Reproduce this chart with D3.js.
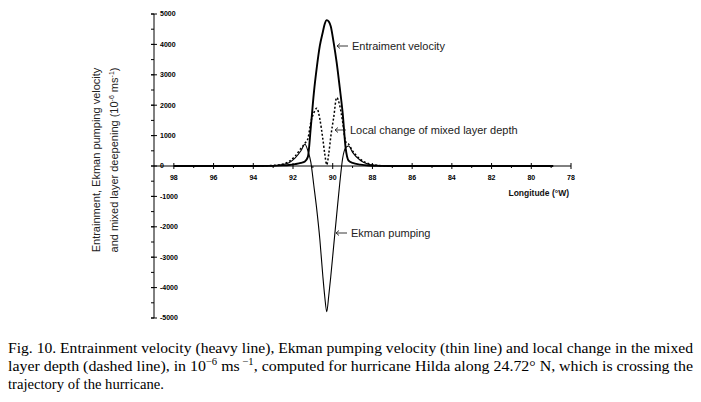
<!DOCTYPE html>
<html>
<head>
<meta charset="utf-8">
<script src="https://cdn.jsdelivr.net/npm/d3@7"></script>
<style>
  body { margin: 0; background: #fff; }
  svg { display: block; }
</style>
</head>
<body>
<div id="chart"></div>
<script>
// longitude (°W)
const lon = [98, 96, 94, 93, 92.5, 92.2, 91.9, 91.6, 91.4, 91.25, 91.1, 90.95, 90.8, 90.65, 90.5, 90.4, 90.3,
  90.2, 90.1, 89.95, 89.8, 89.65, 89.5, 89.35, 89.2, 89.0, 88.6, 88.2, 87.8, 87, 85, 83, 81, 78.9];

// entrainment velocity (heavy line), 10^-6 m/s
const entrainment = [0, 0, 0, 5, 20, 35, 60, 100, 150, 300, 1300, 2400, 3250, 3950, 4400, 4680, 4800,
  4750, 4600, 4050, 3400, 2600, 1750, 600, 180, 100, 45, 15, 5, 0, 0, 0, 0, 0];

// Ekman pumping velocity (thin line)
const ekman = [0, 0, 0, 10, 50, 110, 260, 500, 715, 500, 120, -650, -1450, -2400, -3600, -4300, -4790,
  -4270, -3650, -2620, -1600, -600, 250, 600, 660, 450, 180, 60, 20, 0, 0, 0, 0, 0];

// local change of mixed layer depth (dashed line)
const localChange = [0, 0, 0, 20, 70, 150, 320, 580, 750, 900, 1450, 1750, 1900, 1550, 900, 400, 40,
  400, 950, 1600, 2250, 2000, 1450, 800, 720, 500, 220, 80, 25, 0, 0, 0, 0, 0];

const xTicks = [98, 96, 94, 92, 90, 88, 86, 84, 82, 80, 78];
const yTicks = [5000, 4000, 3000, 2000, 1000, 0, -1000, -2000, -3000, -4000, -5000];

const width = 701, height = 402;

const svg = d3.select("#chart").append("svg")
  .attr("width", width)
  .attr("height", height);

const x = d3.scaleLinear().domain([99, 78]).range([154, 571]);
const y = d3.scaleLinear().domain([-5000, 5000]).range([318, 14]);

const tickFont = "bold 7px 'Liberation Sans', Arial, sans-serif";

// y axis: line on the left, labels just to the right of it
const yAxis = svg.append("g");
yAxis.append("line")
  .attr("x1", x(99)).attr("x2", x(99))
  .attr("y1", y(5000)).attr("y2", y(-5000))
  .attr("stroke", "#000");
yAxis.selectAll(".minor")
  .data(d3.range(-5000, 5001, 500))
  .join("line")
  .attr("x1", x(99) - 3).attr("x2", x(99))
  .attr("y1", d => y(d)).attr("y2", d => y(d))
  .attr("stroke", "#000");
yAxis.selectAll(".major")
  .data(yTicks)
  .join("line")
  .attr("x1", x(99) - 3).attr("x2", x(99) + 3)
  .attr("y1", d => y(d)).attr("y2", d => y(d))
  .attr("stroke", "#000");
yAxis.selectAll("text")
  .data(yTicks)
  .join("text")
  .attr("x", 160)
  .attr("y", d => y(d))
  .attr("dy", "0.35em")
  .style("font", tickFont)
  .text(d => d);

// x axis along zero
const xAxis = svg.append("g");
xAxis.append("line")
  .attr("x1", x(99)).attr("x2", x(78))
  .attr("y1", y(0)).attr("y2", y(0))
  .attr("stroke", "#000");
xAxis.selectAll(".minor")
  .data(d3.range(97, 78, -2))
  .join("line")
  .attr("x1", d => x(d)).attr("x2", d => x(d))
  .attr("y1", y(0)).attr("y2", y(0) + 2)
  .attr("stroke", "#000");
xAxis.selectAll(".major")
  .data(xTicks)
  .join("line")
  .attr("x1", d => x(d)).attr("x2", d => x(d))
  .attr("y1", y(0) - 3).attr("y2", y(0) + 3)
  .attr("stroke", "#000");
xAxis.selectAll("text")
  .data(xTicks)
  .join("text")
  .attr("x", d => x(d))
  .attr("y", 180)
  .attr("text-anchor", "middle")
  .style("font", tickFont)
  .text(d => d);

svg.append("text")
  .attr("x", 569).attr("y", 196)
  .attr("text-anchor", "end")
  .style("font", "bold 8.5px 'Liberation Sans', Arial, sans-serif")
  .attr("fill", "#111")
  .text("Longitude (°W)");

// y axis title, two rotated lines
const yTitle = svg.append("g")
  .attr("transform", "translate(0,160) rotate(-90)")
  .style("font", "11px 'Liberation Sans', Arial, sans-serif")
  .attr("fill", "#222")
  .attr("text-anchor", "middle");
yTitle.append("text").attr("x", 0).attr("y", 99.5)
  .text("Entrainment, Ekman pumping velocity");
const t2 = yTitle.append("text").attr("x", 0).attr("y", 118);
t2.append("tspan").text("and mixed layer deepening (10");
t2.append("tspan").attr("dy", -4).style("font-size", "7px").text("-6");
t2.append("tspan").attr("dy", 4).text(" ms");
t2.append("tspan").attr("dy", -4).style("font-size", "7px").text("-1");
t2.append("tspan").attr("dy", 4).text(")");

// curves
const rows = lon.map((d, i) => ({lon: d, e: entrainment[i], k: ekman[i], h: localChange[i]}));
const line = key => d3.line()
  .x(d => x(d.lon))
  .y(d => y(d[key]))
  .curve(d3.curveMonotoneX)(rows);

svg.append("path").attr("d", line("k"))
  .attr("fill", "none").attr("stroke", "#000").attr("stroke-width", 1.1);
svg.append("path").attr("d", line("h"))
  .attr("fill", "none").attr("stroke", "#000").attr("stroke-width", 1.5)
  .attr("stroke-dasharray", "2,2");
svg.append("path").attr("d", line("e"))
  .attr("fill", "none").attr("stroke", "#000").attr("stroke-width", 1.9);

// annotations: hand-drawn left arrows and labels
const notes = [
  {x: 337, y: 50, text: "Entraiment velocity"},
  {x: 335, y: 134, text: "Local change of mixed layer depth"},
  {x: 336, y: 237, text: "Ekman pumping"}
];
const note = svg.append("g")
  .style("font", "11px 'Liberation Sans', Arial, sans-serif")
  .attr("fill", "#222");
note.selectAll("path")
  .data(notes)
  .join("path")
  .attr("d", d => {
    const ay = d.y - 4;
    return `M${d.x + 11},${ay}H${d.x}M${d.x + 3},${ay - 2.5}L${d.x},${ay}L${d.x + 3},${ay + 2.5}`;
  })
  .attr("fill", "none")
  .attr("stroke", "#222")
  .attr("stroke-width", 0.9);
note.selectAll("text")
  .data(notes)
  .join("text")
  .attr("x", d => d.x + 15).attr("y", d => d.y)
  .text(d => d.text);

// caption
const cap = svg.append("g")
  .style("font", "15px 'Liberation Serif', 'Times New Roman', serif")
  .attr("fill", "#000");
cap.append("text")
  .attr("x", 8).attr("y", 353)
  .attr("textLength", 685).attr("lengthAdjust", "spacingAndGlyphs")
  .text("Fig. 10. Entrainment velocity (heavy line), Ekman pumping velocity (thin line) and local change in the mixed");
const c2 = cap.append("text")
  .attr("x", 8).attr("y", 371)
  .attr("textLength", 685).attr("lengthAdjust", "spacingAndGlyphs");
c2.append("tspan").text("layer depth (dashed line), in 10");
c2.append("tspan").attr("dy", -6).style("font-size", "10px").text("−6");
c2.append("tspan").attr("dy", 6).text(" ms");
c2.append("tspan").attr("dy", -6).style("font-size", "10px").text(" −1");
c2.append("tspan").attr("dy", 6).text(", computed for hurricane Hilda along 24.72° N, which is crossing the");
cap.append("text")
  .attr("x", 8).attr("y", 389)
  .attr("textLength", 156).attr("lengthAdjust", "spacingAndGlyphs")
  .text("trajectory of the hurricane.");
</script>
</body>
</html>
